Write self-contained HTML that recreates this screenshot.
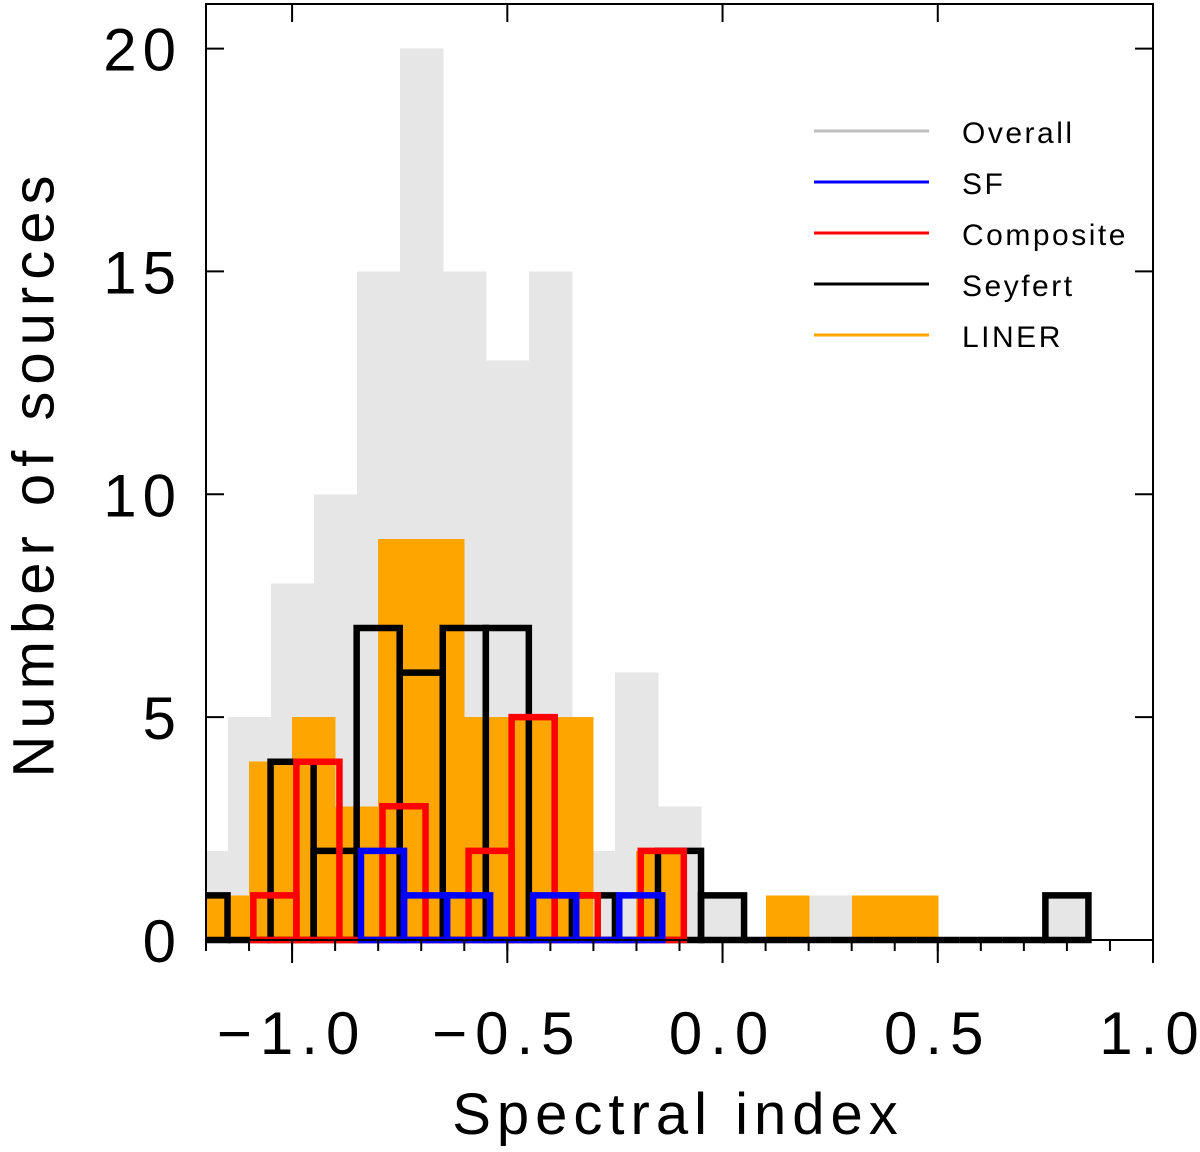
<!DOCTYPE html>
<html><head><meta charset="utf-8"><style>
html,body{margin:0;padding:0;background:#fff;}
svg{display:block;}
text{font-family:"Liberation Sans",sans-serif;fill:#000;}
</style></head><body>
<svg id="chart" width="1200" height="1152" viewBox="0 0 1200 1152">
<defs><clipPath id="clip"><rect x="206" y="0" width="947" height="950"/></clipPath></defs>
<g id="plot" clip-path="url(#clip)"></g>
<g id="axes"></g>
<text x="38" y="473" font-size="58" letter-spacing="7" text-anchor="middle" dominant-baseline="middle" transform="rotate(-90 38 473)">Number of sources</text>
<text x="678" y="1134" font-size="58" letter-spacing="6" text-anchor="middle">Spectral index</text>
<g id="legend"></g>
</svg>
<script>
const binWidth = 0.1;
const overallStart = -1.25;
const overallCounts = [2,5,8,10,15,20,15,13,15,2,6,3,1,0,1,1,1,0,0,0,1];
const linerStart = -1.2;
const linerCounts = [1,4,5,3,9,9,5,5,5,0,2,0,0,1,0,1,1];
const seyfertStart = -1.25;
const seyfertCounts = [1,0,4,2,7,6,7,7,0,1,0,2,1,0,0,0,0,0,0,0,1];
const compositeStart = -1.09;
const compositeCounts = [1,4,0,3,0,2,5,1,0,2];
const sfStart = -0.84;
const sfCounts = [2,1,1,0,1,0,1];
const xTicks = [-1.0,-0.5,0.0,0.5,1.0];
const xTickLabels = ["\u22121.0","\u22120.5","0.0","0.5","1.0"];
const yTicks = [0,5,10,15,20];
const legendLabels = ["Overall","SF","Composite","Seyfert","LINER"];
const legendColors = ["#bebebe","#0000ff","#ff0000","#000000","#ffa500"];

const NS="http://www.w3.org/2000/svg";
const X0=206,X1=1153,Y0=940,Y1=4,XMIN=-1.2,XMAX=1.0,YMIN=0,YMAX=21;
const xs=v=>X0+(v-XMIN)/(XMAX-XMIN)*(X1-X0);
const ys=v=>Y0-(v-YMIN)/(YMAX-YMIN)*(Y0-Y1);
function mk(tag,attrs,parent){const e=document.createElementNS(NS,tag);for(const k in attrs)e.setAttribute(k,attrs[k]);parent.appendChild(e);return e;}
const plot=document.getElementById('plot');
const axes=document.getElementById('axes');
const legend=document.getElementById('legend');

function fillBars(start,counts,color,name){
  counts.forEach((c,i)=>{
    if(c<=0)return;
    const a=Math.round(xs(start+i*binWidth)),b=Math.round(xs(start+(i+1)*binWidth));
    const r=mk('rect',{x:a,y:ys(c),width:b-a+0.5,height:ys(0)-ys(c),fill:color,'shape-rendering':'crispEdges'},plot);
    
    
  });
}
function outlineBars(start,counts,color,name){
  counts.forEach((c,i)=>{
    const a=xs(start+i*binWidth),b=xs(start+(i+1)*binWidth),y=ys(c),y0=ys(0);
    const p=mk('path',{d:`M${a} ${y0}L${a} ${y}L${b} ${y}L${b} ${y0}Z`,fill:'none',stroke:color,'stroke-width':6.5,'stroke-linejoin':'miter','stroke-linecap':'square'},plot);
    
    
  });
}
fillBars(overallStart,overallCounts,'#e6e6e6','overall');
fillBars(linerStart,linerCounts,'#ffa500','liner');
outlineBars(seyfertStart,seyfertCounts,'#000000','seyfert');
outlineBars(compositeStart,compositeCounts,'#ff0000','composite');
outlineBars(sfStart,sfCounts,'#0000ff','sf');

const box=mk('rect',{x:X0,y:Y1,width:X1-X0,height:Y0-Y1,fill:'none',stroke:'#000','stroke-width':2},axes);


for(let k=0;k<=22;k++){
  const v=XMIN+k*0.1;const x=xs(v);
  const t=mk('line',{x1:x,y1:Y0,x2:x,y2:Y0+11,stroke:'#000','stroke-width':2},axes);
  
  
}
xTicks.forEach((v,i)=>{
  const x=xs(v);
  const t=mk('line',{x1:x,y1:Y0,x2:x,y2:Y0+23,stroke:'#000','stroke-width':2},axes);
  
  
  const tt=mk('line',{x1:x,y1:Y1,x2:x,y2:Y1+18,stroke:'#000','stroke-width':2},axes);
  
  
  const l=mk('text',{x:x,y:1054,'font-size':60,'letter-spacing':8,'text-anchor':'middle'},axes);
  l.textContent=xTickLabels[i];
  
  
});
yTicks.forEach(v=>{
  const y=ys(v);
  const t=mk('line',{x1:X0,y1:y,x2:X0+18,y2:y,stroke:'#000','stroke-width':2},axes);
  
  
  const t2=mk('line',{x1:X1-18,y1:y,x2:X1,y2:y,stroke:'#000','stroke-width':2},axes);
  
  
  const l=mk('text',{x:182,y:y+22,'font-size':60,'letter-spacing':6,'text-anchor':'end'},axes);
  l.textContent=String(v);
  
  
});
legendLabels.forEach((lab,i)=>{
  const y=131+i*51;
  const ln=mk('line',{x1:814,y1:y,x2:929,y2:y,stroke:legendColors[i],'stroke-width':3},legend);
  
  
  const t=mk('text',{x:962,y:y+12,'font-size':30,'letter-spacing':2.5},legend);
  t.textContent=lab;
  
  
});
</script>
</body></html>
